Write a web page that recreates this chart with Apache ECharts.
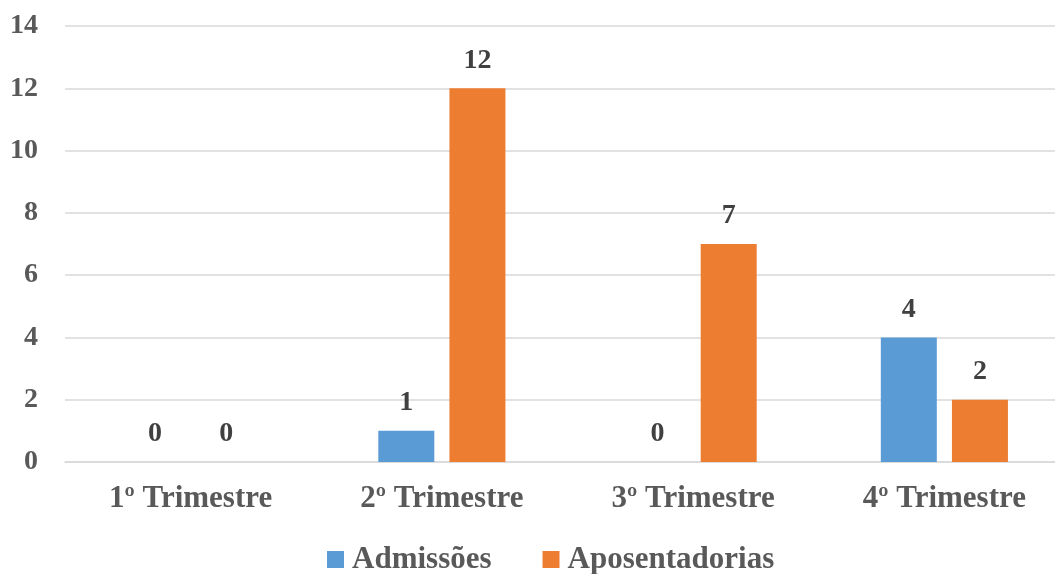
<!DOCTYPE html>
<html>
<head>
<meta charset="utf-8">
<script src="https://cdn.jsdelivr.net/npm/echarts@6/dist/echarts.min.js"></script>
<style>
  html, body { margin: 0; padding: 0; background: #ffffff; }
  #chart { width: 1055px; height: 574px; }
</style>
</head>
<body>
<div id="chart"></div>
<script>
// Quarterly hires and retirements
var categories = ['1º Trimestre', '2º Trimestre', '3º Trimestre', '4º Trimestre'];
var admissoes = [0, 1, 0, 4];
var aposentadorias = [0, 12, 7, 2];
var seriesNames = ['Admissões', 'Aposentadorias'];

var FONT = '"Liberation Serif", "Times New Roman", serif';
var NUM_SIZE = 28;
var TEXT_SIZE = 31;

var chart = echarts.init(document.getElementById('chart'), null, { renderer: 'canvas' });

function labelStyle() {
  return {
    show: true,
    position: 'top',
    distance: 14,
    color: '#404040',
    fontFamily: FONT,
    fontWeight: 'bold',
    fontSize: NUM_SIZE
  };
}

chart.setOption({
  animation: false,
  backgroundColor: '#ffffff',
  grid: {
    left: 65, top: 26, width: 1005, height: 436,
    outerBoundsMode: 'none'
  },
  legend: {
    data: seriesNames,
    top: 539,
    left: 322,
    itemWidth: 17,
    itemHeight: 17,
    itemGap: 51,
    icon: 'rect',
    textStyle: {
      color: '#595959', fontFamily: FONT, fontWeight: 'bold', fontSize: TEXT_SIZE,
      padding: [0, 0, 0, 3]
    }
  },
  xAxis: {
    type: 'category',
    data: categories,
    axisLine: { show: true, lineStyle: { color: '#d9d9d9', width: 1.5 } },
    axisTick: { show: false },
    axisLabel: { color: '#595959', fontFamily: FONT, fontWeight: 'bold', fontSize: TEXT_SIZE, margin: 21 }
  },
  yAxis: {
    type: 'value',
    min: 0,
    max: 14,
    interval: 2,
    axisLine: { show: false },
    axisTick: { show: false },
    splitLine: { lineStyle: { color: '#d9d9d9', width: 1.5 } },
    axisLabel: { color: '#595959', fontFamily: FONT, fontWeight: 'bold', fontSize: NUM_SIZE, margin: 27 }
  },
  series: [
    {
      name: seriesNames[0],
      type: 'bar',
      data: admissoes,
      barWidth: 56,
      barGap: '27%',
      itemStyle: { color: '#5b9bd5' },
      label: labelStyle()
    },
    {
      name: seriesNames[1],
      type: 'bar',
      data: aposentadorias,
      barWidth: 56,
      barGap: '27%',
      itemStyle: { color: '#ed7d31' },
      label: labelStyle()
    }
  ]
});
</script>
</body>
</html>
